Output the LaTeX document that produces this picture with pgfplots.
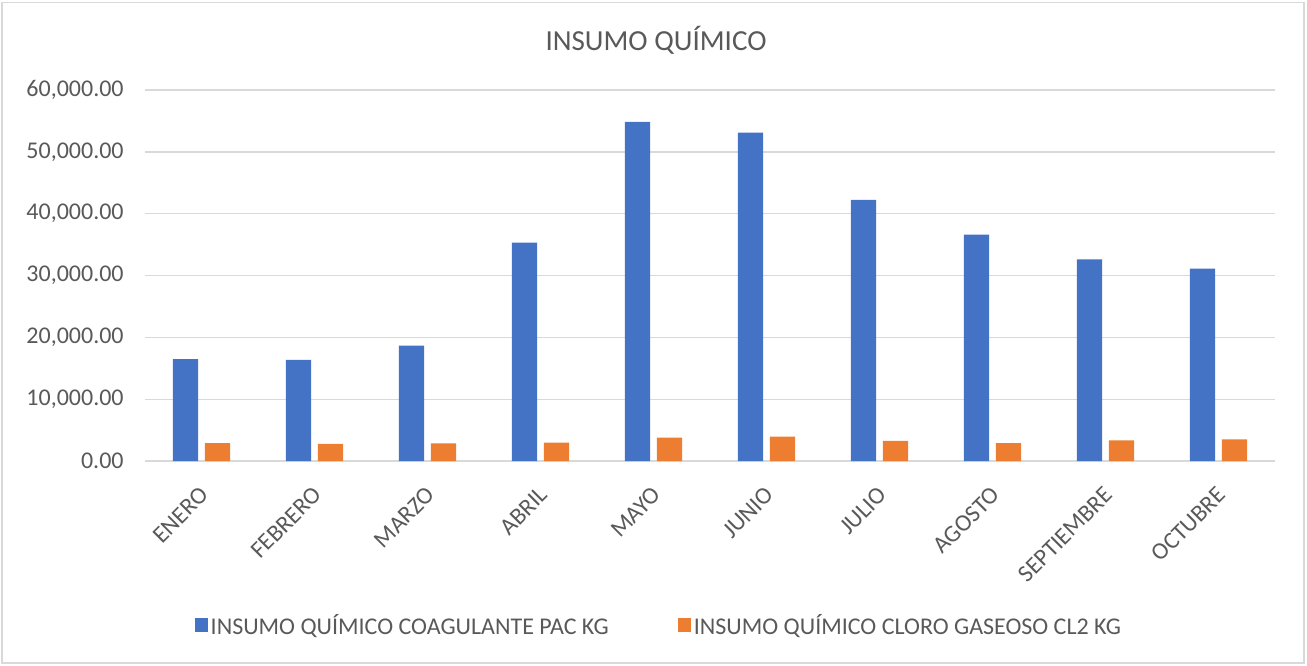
\documentclass[border=0pt]{standalone}
\usepackage{pgfplots}
\pgfplotsset{compat=1.18}
\usepackage{fontspec}
\setmainfont{Carlito}
\definecolor{cblue}{HTML}{4472C4}
\definecolor{corange}{HTML}{ED7D31}
\definecolor{ctext}{HTML}{595959}
\definecolor{cgrid}{HTML}{D9D9D9}
\begin{document}
\begin{tikzpicture}
\path[use as bounding box] (0,0) rectangle (980.25pt,498.75pt);
\draw[cgrid, line width=0.8pt] (1.5pt,1.5pt) rectangle (978pt,497pt);
\begin{axis}[
  at={(108.75pt,153pt)}, anchor=south west,
  scale only axis,
  width=847.5pt, height=278.25pt,
  ybar=5pt, bar width=19pt,
  xmin=-0.5, xmax=9.5,
  ymin=0, ymax=60000,
  ytick={0,10000,...,60000},
  xtick={0,...,9},
  xticklabels={ENERO,FEBRERO,MARZO,ABRIL,MAYO,JUNIO,JULIO,AGOSTO,SEPTIEMBRE,OCTUBRE},
  axis line style={draw=none},
  ymajorgrids, grid style={cgrid, line width=1pt},
  major tick length=0pt,
  scaled y ticks=false,
  /pgf/number format/fixed,
  /pgf/number format/fixed zerofill,
  /pgf/number format/precision=2,
  /pgf/number format/1000 sep={,},
  /pgf/number format/assume math mode=true,
  tick label style={font=\fontsize{18}{21}\selectfont, text=ctext},
  yticklabel style={xshift=-12.5pt},
  xticklabel style={xshift=-1.8pt, yshift=-13.4pt, rotate=45, anchor=north east},
  title={INSUMO QUÍMICO},
  title style={font=\fontsize{21.8}{26}\selectfont, text=ctext, at={(0.5,1)}, anchor=center, yshift=31pt, xshift=-40.5pt},
  legend columns=2,
  legend style={draw=none, fill=none, at={(0.455,-0.442)}, anchor=center,
    font=\fontsize{18}{21}\selectfont, text=ctext,
    /tikz/every even column/.append style={column sep=50pt}},
  legend image code/.code={\fill[#1] (0pt,-5pt) rectangle (10pt,5pt);},
]
\addplot[fill=cblue, draw=none] coordinates {(0,16460) (1,16340) (2,18660) (3,35320) (4,54850) (5,53120) (6,42230) (7,36600) (8,32600) (9,31100)};
\addplot[fill=corange, draw=none] coordinates {(0,2910) (1,2750) (2,2860) (3,2960) (4,3770) (5,3930) (6,3240) (7,2880) (8,3320) (9,3480)};
\legend{INSUMO QUÍMICO COAGULANTE PAC KG, INSUMO QUÍMICO CLORO GASEOSO CL2 KG}
\end{axis}
\end{tikzpicture}
\end{document}
